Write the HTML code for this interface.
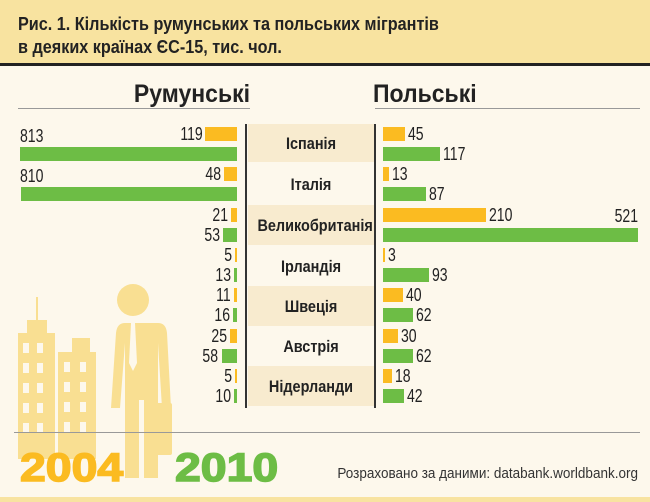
<!DOCTYPE html>
<html><head><meta charset="utf-8"><style>
body{margin:0;width:650px;height:502px;background:#fdf8ec;font-family:"Liberation Sans",sans-serif;position:relative;overflow:hidden}
.a{position:absolute}
.o{background:#fbbb21}.g{background:#6dbd45}
.n{position:absolute;font-size:18px;color:#222;transform:scaleX(.78);line-height:15px;white-space:nowrap}
.c{position:absolute;left:248px;width:126px;text-align:center;font-weight:bold;font-size:17px;color:#222;line-height:40px;height:40px;transform:scaleX(.85);white-space:nowrap}
</style></head><body>
<div class="a" style="left:0;top:0;width:650px;height:63px;background:#f8e3a0"></div>
<div class="a" style="left:0;top:63px;width:650px;height:3px;background:#222"></div>
<div class="a" style="left:18px;top:13px;font-size:18px;font-weight:bold;color:#222;line-height:23px;transform:scaleX(.9);transform-origin:left;white-space:nowrap">Рис. 1. Кількість румунських та польських мігрантів<br>в деяких країнах ЄС-15, тис. чол.</div>
<div class="a" style="left:0;top:497px;width:650px;height:5px;background:#f8e3a0"></div>

<div class="a" style="left:100px;top:80px;width:150px;text-align:right;font-size:25px;font-weight:bold;color:#222;transform:scaleX(.92);transform-origin:right">Румунські</div>
<div class="a" style="left:373px;top:80px;font-size:25px;font-weight:bold;color:#222;transform:scaleX(.92);transform-origin:left">Польські</div>
<div class="a" style="left:18px;top:108px;width:232px;height:1px;background:#999"></div>
<div class="a" style="left:375px;top:108px;width:265px;height:1px;background:#999"></div>
<div class="a" style="left:245px;top:124px;width:2px;height:284px;background:#333"></div>
<div class="a" style="left:374px;top:124px;width:2px;height:284px;background:#333"></div>

<div class="a" style="left:248px;top:124px;width:126px;height:38px;background:#f8ebcf"></div>
<div class="a" style="left:248px;top:205px;width:126px;height:40px;background:#f8ebcf"></div>
<div class="a" style="left:248px;top:286px;width:126px;height:40px;background:#f8ebcf"></div>
<div class="a" style="left:248px;top:366px;width:126px;height:40px;background:#f8ebcf"></div>
<div class="c" style="top:124px">Іспанія</div>
<div class="c" style="top:165px">Італія</div>
<div class="c" style="top:206px">Великобританія</div>
<div class="c" style="top:247px">Ірландія</div>
<div class="c" style="top:287px">Швеція</div>
<div class="c" style="top:327px">Австрія</div>
<div class="c" style="top:367px">Нідерланди</div>

<svg class="a" style="left:0;top:0" width="650" height="502">
<g fill="#f9df92">
<rect x="18" y="333" width="37" height="126"/><rect x="36" y="297" width="2" height="40"/><rect x="27" y="320" width="20" height="14"/>
<rect x="58" y="352" width="38" height="107"/><rect x="72" y="338" width="18" height="16"/>
<circle cx="133" cy="300" r="16"/>
<path d="M108 323 h50 q8 0 9 10 l4 75 h-9 l-4 -65 v135 h-14 v-78 h-5 v78 h-14 v-135 l-5 65 h-9 l5 -75 q1 -10 9 -10z"/>
<rect x="155" y="403" width="17" height="52" rx="2"/>
</g>
<g fill="#fdf8ec">
<rect x="23" y="343" width="6" height="10"/><rect x="37" y="343" width="6" height="10"/>
<rect x="23" y="363" width="6" height="10"/><rect x="37" y="363" width="6" height="10"/>
<rect x="23" y="383" width="6" height="10"/><rect x="37" y="383" width="6" height="10"/>
<rect x="23" y="403" width="6" height="10"/><rect x="37" y="403" width="6" height="10"/>
<rect x="23" y="423" width="6" height="10"/><rect x="37" y="423" width="6" height="10"/>
<rect x="64" y="362" width="6" height="10"/><rect x="80" y="362" width="6" height="10"/>
<rect x="64" y="382" width="6" height="10"/><rect x="80" y="382" width="6" height="10"/>
<rect x="64" y="402" width="6" height="10"/><rect x="80" y="402" width="6" height="10"/>
<rect x="64" y="422" width="6" height="10"/><rect x="80" y="422" width="6" height="10"/>
<path d="M131 323 h4 l2 40 l-4 8 l-4 -8z"/></g>
</svg>

<div id="bars"></div>
<script>
var d=[[119,813,45,117],[48,810,13,87],[21,53,210,521],[5,13,3,93],[11,16,40,62],[25,58,30,62],[5,10,18,42]];
var h='';var ys=[127,167,208,248,288,329,369];
d.forEach(function(r,i){var y=ys[i];
[[r[0],y,'o'],[r[1],y+20,'g']].forEach(function(b){var w=Math.max(2,b[0]*0.267);
h+='<div class="a '+b[2]+'" style="left:'+(237-w)+'px;top:'+b[1]+'px;width:'+w+'px;height:14px"></div>';
if(b[0]>700) h+='<div class="n" style="left:20px;top:'+(b[1]-18)+'px;transform-origin:left">'+b[0]+'</div>';
else h+='<div class="n" style="right:'+(650-237+w+3)+'px;top:'+b[1]+'px;transform-origin:right">'+b[0]+'</div>';});
[[r[2],y,'o'],[r[3],y+20,'g']].forEach(function(b){var w=Math.max(2,b[0]*0.49);
h+='<div class="a '+b[2]+'" style="left:383px;top:'+b[1]+'px;width:'+w+'px;height:14px"></div>';
if(b[0]>500) h+='<div class="n" style="right:12px;top:'+(b[1]-19)+'px;transform-origin:right">'+b[0]+'</div>';
else h+='<div class="n" style="left:'+(383+w+3)+'px;top:'+b[1]+'px;transform-origin:left">'+b[0]+'</div>';});
});
document.getElementById('bars').innerHTML=h;
</script>

<div class="a" style="left:14px;top:432px;width:626px;height:1px;background:#999"></div>
<div class="a" style="left:20px;top:446px;font-size:40px;font-weight:bold;color:#fbbb21;-webkit-text-stroke:1.5px #fbbb21;transform:scaleX(1.16);transform-origin:left">2004</div>
<div class="a" style="left:175px;top:446px;font-size:40px;font-weight:bold;color:#6dbd45;-webkit-text-stroke:1.5px #6dbd45;transform:scaleX(1.16);transform-origin:left">2010</div>
<div class="a" style="right:12px;top:465px;font-size:15px;color:#333;transform:scaleX(.9);transform-origin:right;white-space:nowrap">Розраховано за даними: databank.worldbank.org</div>
</body></html>
